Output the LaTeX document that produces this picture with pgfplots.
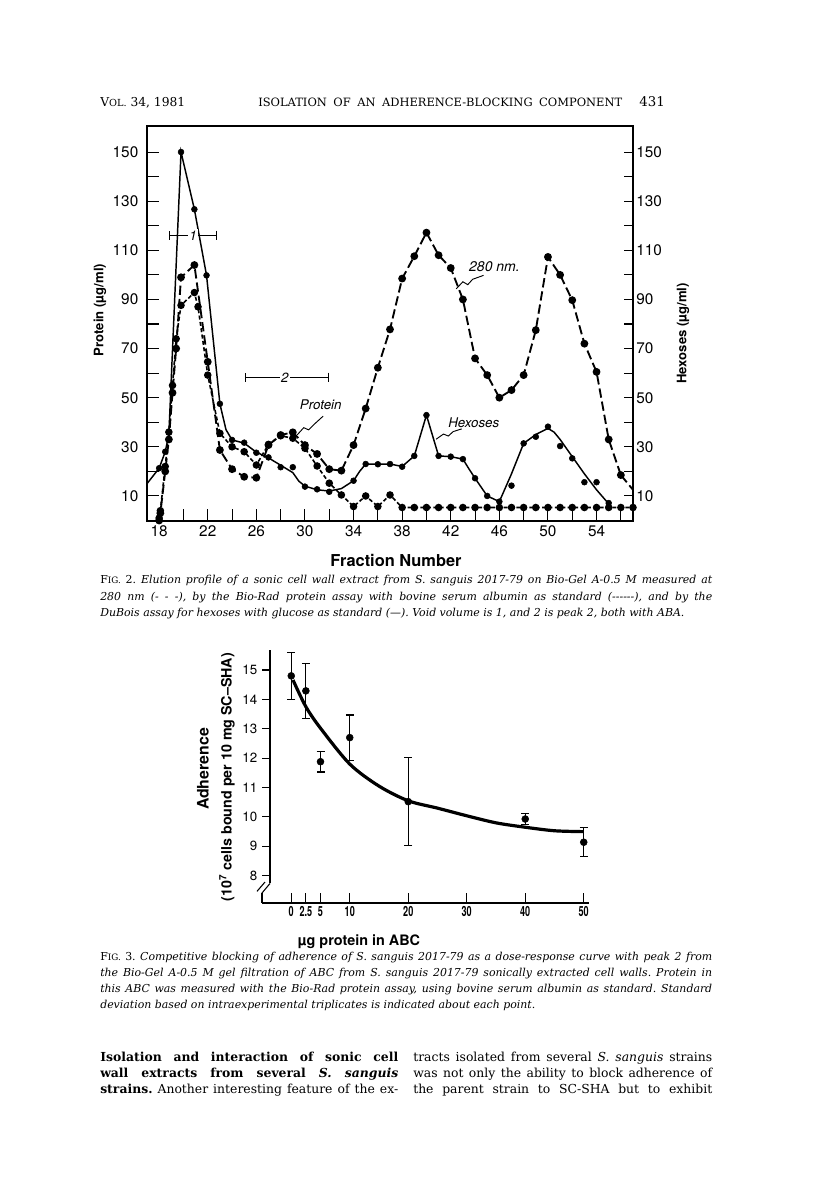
\documentclass[border=0pt]{standalone}
\usepackage{pgfplots}
\usepackage{pgfplotstable}
\pgfplotsset{compat=1.18}
\usetikzlibrary{arrows.meta}
\usepackage{fontspec}
\setmainfont{DejaVu Serif}
\newfontfamily\hv{TeX Gyre Heros}
\frenchspacing

% Fig. 2 -- fraction number vs. concentration
\pgfplotstableread{
f v
17 15
18 21.3
18.5 28
18.8 35
19.8 150
20.9 126.7
21.9 99.8
23 47.5
23.5 37
24 32.8
25 31.5
26 27.8
27 25.5
28 22.5
29 19.5
29.5 16
30 14
31 12.5
32 12
33 13
34 16.2
34.5 20
35 23
37 23
38 22
39 26.3
40 42.9
41 26.3
42 26
43 25
43.5 21
44 17.2
45 10
46 7.7
47 19
48 31.4
49 35
50 37.5
50.5 36
51 33
52 26
53 19
54 12.5
55 6.8
}\hexline
\pgfplotstableread{
f v
18 21.3
18.5 28
19.8 150
20.9 126.7
21.9 99.8
23 47.5
24 32.8
25 31.7
26 27.6
27 25.7
28 21.7
29 21.7
30 13.8
31 12.7
32 11.7
34 16.2
35 23
36 22.9
37 23
38 21.9
39 26.3
40 42.9
41 26.3
42 26
43 25
44 17.2
45 10
46 7.7
47 14.2
48 31.4
49 34.1
50 38.2
51 30.3
52 25.3
53 15.6
54 15.6
55 7.1
}\hexpts
\pgfplotstableread{
f v
18 0
18.1 3
18.5 20
18.8 33
19.1 52
19.4 70
19.8 99
20.9 104
22 64.6
23 28.7
24 20.9
25 17.8
26 17.4
27 30.7
28 34.8
29 35.9
30 30.7
31 27.1
32 20.9
33 20.3
34 30.7
35 45.6
36 62.2
37 77.8
38 98.5
39 107.6
40 117.2
41 108
42 102.8
43 90
44 66
45 59.2
46 50
47 53.1
48 59.2
49 77.5
50 107.3
51 100
52 89.7
53 72
54 60.5
55 33
56 18.5
}\absorb
\pgfplotstableread{
f v
18 1
18.1 4
18.5 22
18.8 36
19.1 55
19.4 74
19.8 87.6
20.9 92.8
21.2 87
22 59.2
23 35.5
24 30
25 28
26 22.6
27 31
28 34.5
29 33.5
30 29.4
31 22.2
32 15.2
33 10.4
34 5.7
35 10
36 5.7
37 10.4
38 5.3
39 5.3
40 5.3
41 5.3
42 5.3
43 5.3
44 5.3
45 5.3
46 5.3
47 5.3
48 5.3
49 5.3
50 5.3
51 5.3
52 5.3
53 5.3
54 5.3
55 5.3
56 5.3
57 5.3
}\protein

% Fig. 3 -- adherence vs. protein
\pgfplotstableread{
x y e
0 14.8 0.8
2.5 14.29 0.93
5 11.88 0.35
10 12.70 0.77
20 10.52 1.5
40 9.93 0.2
50 9.14 0.5
}\adh
\pgfplotstableread{
x y
0.3 14.66
2.5 13.75
5 13.02
10 11.8
15 11.05
20 10.55
25 10.3
30 10.04
35 9.8
40 9.65
45 9.53
50 9.5
}\fit

\begin{document}
\begin{tikzpicture}
\path[use as bounding box] (0,0) rectangle (612pt,-894pt);

% running head
\node[anchor=base west, inner sep=0, font=\fontsize{9.2}{11}\selectfont] at (75pt,-79.5pt)
  {V{\fontsize{7.3}{8}\selectfont OL.} 34, 1981};
\node[anchor=base west, inner sep=0, font=\fontsize{8.6}{11}\selectfont] at (193.5pt,-79.5pt)
  {\makebox[273pt][s]{ISOLATION OF AN ADHERENCE-BLOCKING COMPONENT}};
\node[anchor=base east, inner sep=0, font=\fontsize{10}{12}\selectfont] at (498.75pt,-79.5pt) {431};

% ---------- Fig. 2 ----------
\begin{axis}[
  at={(110.25pt,-390.75pt)}, anchor=south west,
  scale only axis, width=364.5pt, height=296.25pt,
  xmin=17, xmax=57, ymin=-0.2, ymax=160.6,
  xtick={18,22,...,54}, minor xtick={20,24,...,56},
  ytick={10,30,...,150}, minor ytick={20,40,...,140},
  xtick pos=bottom, ytick pos=left,
  tick align=inside,
  major tick length=9pt, minor tick length=9pt,
  tick style={black, line width=0.8pt},
  axis line style={line width=0.9pt},
  tick label style={font=\hv\fontsize{11.5}{12}\selectfont},
  yticklabel style={xshift=-3pt},
  /pgf/number format/assume math mode=true,
  clip=false,
]
\addplot[black, line width=1.1pt] table[x=f, y=v] {\hexline};
\addplot[black, only marks, mark=*, mark size=2.2pt] table[x=f, y=v] {\hexpts};
\addplot[black, line width=1.4pt, dash pattern=on 7pt off 3pt,
  mark=*, mark size=2.2pt, mark options={solid}] table[x=f, y=v] {\absorb};
\addplot[black, line width=1.4pt, dash pattern=on 7pt off 3pt]
  coordinates {(56,18.5) (57,12.5)};
\addplot[black, line width=1.2pt, dash pattern=on 3pt off 1.8pt,
  mark=*, mark size=2.2pt, mark options={solid}] table[x=f, y=v] {\protein};

% peak bars
\draw[{Bar[width=7pt]}-{Bar[width=7pt]}, line width=0.8pt]
  (axis cs:18.81,116.1) -- (axis cs:22.78,116.1);
\node[fill=white, inner sep=1.2pt, font=\hv\itshape\fontsize{10}{10}\selectfont]
  at (axis cs:20.8,116.1) {1};
\draw[{Bar[width=7pt]}-{Bar[width=7pt]}, line width=0.8pt]
  (axis cs:25.06,58.3) -- (axis cs:32.0,58.3);
\node[fill=white, inner sep=1.2pt, font=\hv\itshape\fontsize{10}{10}\selectfont]
  at (axis cs:28.35,58.3) {2};

% curve labels
\node[font=\hv\itshape\fontsize{10.5}{11}\selectfont] at (axis cs:45.6,103.2) {280 nm.};
\draw[line width=0.7pt] (axis cs:42.45,94.3) -- (axis cs:43.0,97.2) -- (axis cs:43.4,96.0)
  -- (axis cs:43.8,98.2) -- (axis cs:44.7,99.8);
\node[font=\hv\itshape\fontsize{10}{11}\selectfont] at (axis cs:31.3,47.0) {Protein};
\draw[line width=0.7pt] (axis cs:29.35,34.8) -- (axis cs:29.9,37.8) -- (axis cs:30.3,36.9)
  -- (axis cs:30.7,38.9) -- (axis cs:31.5,42.5);
\node[font=\hv\itshape\fontsize{10}{11}\selectfont] at (axis cs:43.9,39.8) {Hexoses};
\draw[line width=0.7pt] (axis cs:40.8,33.1) -- (axis cs:41.4,35.2) -- (axis cs:41.8,34.4)
  -- (axis cs:42.2,36.2) -- (axis cs:42.9,37.3);
\end{axis}

\begin{axis}[
  at={(110.25pt,-390.75pt)}, anchor=south west,
  scale only axis, width=364.5pt, height=296.25pt,
  xmin=17, xmax=57, ymin=-0.2, ymax=160.6,
  axis y line*=right, axis x line=none,
  y axis line style={-, line width=0.9pt},
  ytick={10,30,...,150}, minor ytick={20,40,...,140},
  tick align=inside,
  major tick length=7pt, minor tick length=7pt,
  tick style={black, line width=0.8pt},
  tick label style={font=\hv\fontsize{11.5}{12}\selectfont},
  yticklabel style={xshift=-1pt},
  /pgf/number format/assume math mode=true,
]
\end{axis}

\node[font=\hv\bfseries\fontsize{12.3}{14}\selectfont] at (297pt,-420pt) {Fraction Number};
\node[rotate=90, font=\hv\bfseries\fontsize{9.8}{12}\selectfont] at (75pt,-232.5pt) {Protein (µg/ml)};
\node[rotate=90, font=\hv\bfseries\fontsize{9.8}{12}\selectfont] at (512.25pt,-250pt) {Hexoses (µg/ml)};

% caption of Fig. 2
\begin{scope}[every node/.style={anchor=base west, inner sep=0, font=\fontsize{8.2}{9}\selectfont\itshape}]
\node at (75pt,-437.25pt) {\makebox[459pt][s]{{\upshape F{\fontsize{6.6}{7}\selectfont IG.} 2.} Elution profile of a sonic cell wall extract from S. sanguis 2017-79 on Bio-Gel A-0.5 M measured at}};
\node at (75pt,-450pt) {\makebox[459pt][s]{280 nm (- - -), by the Bio-Rad protein assay with bovine serum albumin as standard ({-}{-}{-}{-}{-}{-}), and by the}};
\node at (75pt,-462pt) {DuBois assay for hexoses with glucose as standard (---). Void volume is 1, and 2 is peak 2, both with ABA.};
\end{scope}

% ---------- Fig. 3 ----------
\begin{axis}[
  at={(196.5pt,-677.25pt)}, anchor=south west,
  scale only axis, width=245.25pt, height=189.75pt,
  xmin=-5, xmax=50.9, ymin=7.072, ymax=15.68,
  axis x line*=bottom, axis y line=none,
  x axis line style={-, line width=0.9pt},
  xtick={0,2.5,5,10,20,30,40,50},
  xticklabels={\scalebox{0.65}[1]{0},\scalebox{0.65}[1]{2.5},\scalebox{0.65}[1]{5},
    \scalebox{0.65}[1]{10},\scalebox{0.65}[1]{20},\scalebox{0.65}[1]{30},
    \scalebox{0.65}[1]{40},\scalebox{0.65}[1]{50}},
  tick align=inside, major tick length=7.5pt,
  tick style={black, line width=0.8pt},
  xticklabel style={font=\hv\bfseries\fontsize{10.5}{11}\selectfont, yshift=1pt},
  clip=false,
]
\addplot[black, line width=2.4pt, smooth] table[x=x, y=y] {\fit};
\addplot[black, only marks, mark=*, mark size=2.6pt,
  error bars/.cd, y dir=both, y explicit,
  error bar style={line width=0.8pt, black},
  error mark options={rotate=90, mark size=3pt, line width=0.8pt, black}]
  table[x=x, y=y, y error=e] {\adh};
\end{axis}

\begin{axis}[
  at={(202.5pt,-662.25pt)}, anchor=south west,
  scale only axis, width=240pt, height=174.75pt,
  xmin=0, xmax=1, ymin=7.753, ymax=15.68,
  axis y line*=left, axis x line=none,
  y axis line style={-, line width=0.9pt},
  ytick={8,...,15},
  tick align=outside, major tick length=6pt,
  tick style={black, line width=0.8pt},
  yticklabel style={font=\hv\fontsize{10}{11}\selectfont},
  /pgf/number format/assume math mode=true,
]
\end{axis}

% axis break
\draw[line width=0.9pt] (196.5pt,-669.75pt) -- (196.5pt,-677.25pt);
\draw[line width=0.8pt] (196.5pt,-669.75pt) -- (202.5pt,-662.6pt);
\draw[line width=0.8pt] (192.75pt,-668.5pt) -- (198.75pt,-661.5pt);

\node[rotate=90, font=\hv\bfseries\fontsize{11.9}{14}\selectfont] at (152.25pt,-576.75pt) {Adherence};
\node[rotate=90, font=\hv\bfseries\fontsize{10.7}{13}\selectfont] at (170.25pt,-582.75pt)
  {(10\textsuperscript{7} cells bound per 10 mg SC\textendash SHA)};
\node[font=\hv\bfseries\fontsize{10.8}{13}\selectfont] at (269.25pt,-706pt) {µg protein in ABC};

% caption of Fig. 3
\begin{scope}[every node/.style={anchor=base west, inner sep=0, font=\fontsize{8.2}{9}\selectfont\itshape}]
\node at (75pt,-720pt) {\makebox[459pt][s]{{\upshape F{\fontsize{6.6}{7}\selectfont IG.} 3.} Competitive blocking of adherence of S. sanguis 2017-79 as a dose-response curve with peak 2 from}};
\node at (75pt,-732pt) {\makebox[459pt][s]{the Bio-Gel A-0.5 M gel filtration of ABC from S. sanguis 2017-79 sonically extracted cell walls. Protein in}};
\node at (75pt,-744pt) {\makebox[459pt][s]{this ABC was measured with the Bio-Rad protein assay, using bovine serum albumin as standard. Standard}};
\node at (75pt,-756pt) {deviation based on intraexperimental triplicates is indicated about each point.};
\end{scope}

% body text, two columns
\begin{scope}[every node/.style={anchor=base west, inner sep=0, font=\fontsize{9.3}{11}\selectfont}]
\node at (75pt,-795.75pt) {\makebox[223.5pt][s]{\bfseries Isolation and interaction of sonic cell}};
\node at (75pt,-807.75pt) {\makebox[223.5pt][s]{\bfseries wall extracts from several \textit{S. sanguis}}};
\node at (75pt,-819.75pt) {\makebox[223.5pt][s]{\textbf{strains.} Another interesting feature of the ex-}};
\node at (309.75pt,-795.75pt) {\makebox[224.25pt][s]{tracts isolated from several \textit{S. sanguis} strains}};
\node at (309.75pt,-807.75pt) {\makebox[224.25pt][s]{was not only the ability to block adherence of}};
\node at (309.75pt,-819.75pt) {\makebox[224.25pt][s]{the parent strain to SC-SHA but to exhibit}};
\end{scope}
\end{tikzpicture}
\end{document}
